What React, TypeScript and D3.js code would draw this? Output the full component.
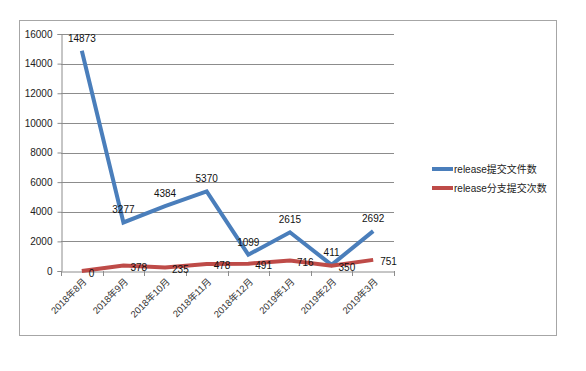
// Monthly release stats: files committed vs branch commits, Excel-style line chart.
import { useEffect, useRef } from "react";
import * as d3 from "d3";

const months = ["2018年8月", "2018年9月", "2018年10月", "2018年11月", "2018年12月", "2019年1月", "2019年2月", "2019年3月"];
const filesCommitted = [14873, 3277, 4384, 5370, 1099, 2615, 411, 2692];
const branchCommits = [0, 378, 235, 478, 491, 716, 350, 751];
const yTicks = [0, 2000, 4000, 6000, 8000, 10000, 12000, 14000, 16000];
const seriesNames = ["release提交文件数", "release分支提交次数"];
const seriesColors = ["#4a7ebb", "#be4b48"];

const W = 586;
const H = 371;
const FONT = "'Liberation Sans', 'Noto Sans CJK SC', sans-serif";

export default function App() {
  const svgRef = useRef<SVGSVGElement | null>(null);

  useEffect(() => {
    const svg = d3.select(svgRef.current);
    svg.selectAll("*").remove();

    // outer chart frame
    svg.append("rect")
      .attr("x", 19.5).attr("y", 20.5)
      .attr("width", 537).attr("height", 315)
      .attr("fill", "#fff")
      .attr("stroke", "#a6a6a6").attr("stroke-width", 1);

    const left = 61, right = 394, top = 34, bottom = 271;

    const x = d3.scaleBand().domain(months).range([left, right]);
    const y = d3.scaleLinear().domain([0, 16000]).range([bottom, top]);
    const cx = (i: number) => (x(months[i]) as number) + x.bandwidth() / 2;

    // gridlines
    svg.append("g")
      .selectAll("line")
      .data(yTicks.slice(1))
      .enter()
      .append("line")
      .attr("x1", left).attr("x2", right)
      .attr("y1", d => Math.round(y(d)) + 0.5).attr("y2", d => Math.round(y(d)) + 0.5)
      .attr("stroke", "#8c8c8c").attr("stroke-width", 1);

    // y axis
    const yAxis = svg.append("g")
      .attr("transform", `translate(${left + 0.5},0)`)
      .call(d3.axisLeft(y).tickValues(yTicks).tickSize(4).tickPadding(5).tickFormat(d3.format("d")));
    yAxis.select(".domain").attr("stroke", "#8c8c8c");
    yAxis.selectAll("line").attr("stroke", "#8c8c8c");
    yAxis.selectAll("text").attr("font-size", 10).attr("font-family", FONT).attr("fill", "#222");

    // x axis
    const xAxis = svg.append("g")
      .attr("transform", `translate(0,${Math.round(bottom) + 0.5})`)
      .call(d3.axisBottom(x).tickSize(0).tickFormat(() => ""));
    xAxis.select(".domain").attr("stroke", "#8c8c8c");
    xAxis.selectAll(".tick").remove();

    // category boundary ticks
    svg.append("g")
      .selectAll("line")
      .data(d3.range(months.length + 1))
      .enter()
      .append("line")
      .attr("x1", i => Math.round(left + i * x.step()) + 0.5)
      .attr("x2", i => Math.round(left + i * x.step()) + 0.5)
      .attr("y1", bottom).attr("y2", bottom + 5)
      .attr("stroke", "#8c8c8c");

    // rotated month labels
    svg.append("g")
      .selectAll("text")
      .data(months)
      .enter()
      .append("text")
      .attr("transform", (d, i) => `translate(${cx(i) + 3},${bottom + 9}) rotate(-45)`)
      .attr("text-anchor", "end")
      .attr("dy", "0.35em")
      .attr("font-size", 9.5)
      .attr("font-family", FONT)
      .attr("fill", "#333")
      .text(d => d);

    const line = d3.line<number>()
      .x((d, i) => cx(i))
      .y(d => y(d));

    [filesCommitted, branchCommits].forEach((vals, k) => {
      svg.append("path")
        .datum(vals)
        .attr("d", line)
        .attr("fill", "none")
        .attr("stroke", seriesColors[k])
        .attr("stroke-width", 4)
        .attr("stroke-linejoin", "miter");
    });

    // labels for blue series: above point
    svg.append("g")
      .selectAll("text")
      .data(filesCommitted)
      .enter()
      .append("text")
      .attr("x", (d, i) => cx(i))
      .attr("y", d => y(d) - 9)
      .attr("text-anchor", "middle")
      .attr("font-size", 10)
      .attr("font-family", FONT)
      .attr("fill", "#111")
      .text(d => d);

    // labels for red series: right of point
    svg.append("g")
      .selectAll("text")
      .data(branchCommits)
      .enter()
      .append("text")
      .attr("x", (d, i) => cx(i) + 7)
      .attr("y", d => y(d) + 2)
      .attr("dy", "0.35em")
      .attr("font-size", 10)
      .attr("font-family", FONT)
      .attr("fill", "#111")
      .text(d => d);

    // legend
    const legend = svg.append("g").attr("transform", "translate(432,169)");
    seriesNames.forEach((name, k) => {
      const row = legend.append("g").attr("transform", `translate(0,${k * 19})`);
      row.append("line")
        .attr("x1", 0).attr("x2", 21)
        .attr("y1", 0).attr("y2", 0)
        .attr("stroke", seriesColors[k]).attr("stroke-width", 4);
      row.append("text")
        .attr("x", 22).attr("y", 0)
        .attr("dy", "0.35em")
        .attr("font-size", 10)
        .attr("font-family", FONT)
        .attr("fill", "#222")
        .text(name);
    });
  }, []);

  return (
    <svg
      ref={svgRef}
      width={W}
      height={H}
      viewBox={`0 0 ${W} ${H}`}
      style={{ position: "absolute", left: 0, top: 0, background: "#fff" }}
    />
  );
}
